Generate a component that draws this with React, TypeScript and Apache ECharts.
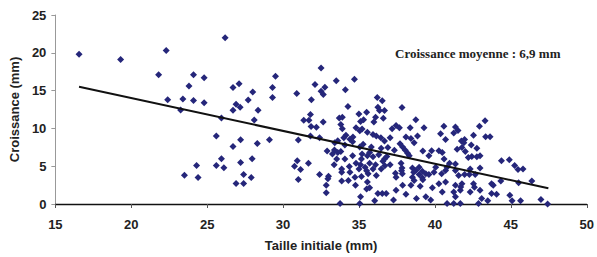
import React, { useEffect, useRef } from "react";
import * as echarts from "echarts";

// Taille initiale (mm)
const sizeX: number[] = [
  16.56, 19.3, 22.3, 21.8, 24.1, 23.8, 22.4, 23.4, 24.1, 23.25, 24.3, 23.5, 24.4,
  24.8, 24.8, 26.18, 25.94, 25.6, 26.7, 27.1, 26.9, 27.17, 26.7, 27.7, 28.0, 28.35, 28.1, 29.3, 29.3, 29.5,
  26.7, 27.2, 28.3, 29.1, 25.94, 25.6, 26.1, 27.2, 27.96, 27.4, 27.9, 26.9, 27.4,
  32.5, 32.1, 33.5, 34.7, 30.9, 32.5, 32.75, 32.65, 31.86, 34.1, 34.27, 31.8, 31.36, 31.7, 31.84, 32.19,
  32.64, 31.8, 32.4, 31.0, 33.7, 33.9, 33.8, 33.9, 34.99, 35.5, 35.1, 35.3, 34.8, 35.05, 35.2, 35.55,
  34.14, 34.6, 34.0, 34.4, 34.07, 34.58, 32.9, 33.38, 33.6, 33.25, 33.8, 34.58, 35.2, 35.55, 34.07, 33.53,
  33.36, 34.8, 35.1, 35.4, 35.0, 33.86, 34.36, 30.93, 30.75, 31.15, 31.67, 32.4, 32.99, 32.95, 31.0, 32.84,
  32.84, 33.86, 34.3, 34.77, 35.16, 35.55, 35.1, 33.75, 35.05, 35.5,
  36.2, 36.53, 37.83, 36.24, 36.35, 36.68, 36.09, 35.98, 38.74, 39.28, 37.44, 37.66, 37.18, 38.37, 35.92,
  36.44, 37.05, 38.09, 38.42, 38.85, 38.63, 37.7, 37.87, 38.05, 38.2, 38.31, 35.81, 36.46, 36.9, 37.33,
  35.05, 35.92, 36.3, 36.83, 37.05, 36.57, 36.09, 35.7, 37.77, 37.83, 37.4, 38.52, 38.74, 38.96, 39.17,
  39.4, 38.96, 38.52, 38.63, 39.17, 35.6, 35.7, 36.14, 37.87, 38.42, 39.03, 37.44, 36.24, 36.53, 36.79,
  38.09, 39.4, 36.03, 37.27, 38.78,
  43.3, 42.93, 43.34, 43.63, 40.59, 41.35, 41.52, 40.37, 40.7, 41.74, 41.95, 42.54, 41.78, 42.0, 42.39,
  42.76, 42.43, 42.76, 42.97, 42.2, 39.78, 40.26, 40.48, 39.6, 40.96, 40.8, 41.35, 41.35, 40.7, 40.44,
  40.05, 39.94, 39.6, 41.95, 42.32, 42.27, 42.54, 41.78, 41.35, 40.7, 40.26, 39.83, 40.48, 41.24, 41.67,
  42.32, 42.97, 43.84, 44.06, 43.73, 43.08, 39.72, 40.8, 41.24, 41.67, 42.87, 43.48,
  44.38, 44.9, 45.25, 45.47, 45.8, 44.34, 45.51, 46.38, 44.93, 45.08, 45.64, 46.98, 47.42,
  39.2, 40.6, 37.8, 37.85, 38.6, 39.2, 37.44,
  41.24, 41.9, 41.46, 42.97, 41.56, 42.65, 43.73, 41.7, 42.6, 41.35,
  36.6, 36.14, 33.4, 33.6, 36.68, 35.27, 35.7,
  35.5, 35.92, 36.46, 36.7, 36.68, 35.16, 33.86, 34.4, 34.73,
];

// Croissance (mm)
const growthY: number[] = [
  19.8, 19.1, 20.3, 17.1, 17.1, 15.6, 13.8, 13.9, 13.7, 12.45, 5.1, 3.8, 3.5,
  16.7, 13.4, 22.0, 11.37, 9.0, 15.4, 15.9, 13.2, 12.8, 12.4, 13.75, 14.8, 12.4, 11.1, 15.4, 14.1, 16.9,
  7.6, 8.5, 8.0, 8.5, 6.0, 5.1, 4.8, 5.5, 6.0, 3.9, 3.5, 2.7, 2.7,
  18.0, 15.8, 16.3, 16.5, 14.6, 14.9, 15.45, 14.5, 13.8, 15.1, 12.9, 11.85, 11.07, 11.07, 10.24, 10.15,
  10.85, 8.98, 8.76, 8.46, 11.37, 11.46, 10.5, 9.97, 11.9, 12.15, 10.9, 11.15, 10.07, 9.7, 9.93, 9.5,
  9.1, 8.85, 8.76, 8.55, 7.8, 8.25, 7.0, 7.15, 6.8, 6.6, 6.94, 6.37, 6.6, 6.37, 5.94, 5.94,
  5.2, 5.38, 5.2, 4.86, 4.64, 4.64, 4.95, 5.73, 4.99, 4.55, 5.38, 3.9, 3.68, 3.33, 3.25, 2.47,
  1.5, 3.03, 3.12, 2.47, 3.64, 2.9, 0.95, 0.08, 0.08, 2.0,
  14.1, 13.67, 12.76, 12.8, 12.37, 12.37, 11.46, 10.85, 11.15, 10.07, 10.37, 10.07, 9.97, 10.07, 9.2,
  8.76, 8.76, 8.85, 8.67, 8.98, 8.11, 7.98, 7.55, 7.11, 6.72, 6.37, 7.55, 7.37, 7.46, 7.11,
  7.55, 6.25, 6.5, 6.29, 5.2, 5.64, 5.2, 5.38, 5.38, 4.77, 4.08, 4.77, 4.43, 3.9, 4.34,
  3.99, 4.86, 3.55, 3.12, 3.46, 3.99, 2.16, 3.77, 2.47, 2.47, 2.34, 1.82, 1.38, 1.38, 1.38,
  1.3, 0.95, 0.43, 0.52, 0.73,
  11.0, 10.28, 8.89, 8.89, 10.28, 10.2, 9.71, 9.28, 8.54, 8.33, 8.54, 9.11, 7.46, 6.94, 7.81,
  7.37, 6.29, 6.25, 6.37, 6.16, 7.03, 7.03, 6.81, 6.37, 5.38, 4.86, 5.29, 4.43, 4.43, 3.99,
  4.86, 4.21, 3.9, 3.9, 4.64, 3.9, 2.68, 2.68, 2.47, 2.9, 2.68, 2.16, 1.6, 1.6, 1.82,
  1.6, 1.82, 2.47, 1.3, 1.38, 0.73, 0.52, 0.08, 0.08, 0.08, 0.08, 0.43,
  5.73, 5.86, 5.08, 4.56, 4.64, 3.03, 2.81, 3.03, 1.17, 0.43, 0.43, 0.6, 0.0,
  7.0, 5.95, 4.4, 3.99, 4.2, 3.2, 3.55,
  9.4, 8.1, 7.24, 4.77, 3.77, 3.9, 2.68, 2.25, 2.2, 0.95,
  11.35, 9.0, 8.1, 8.35, 8.33, 7.9, 6.8,
  4.4, 4.64, 4.64, 5.05, 5.94, 5.94, 4.2, 4.2, 3.55,
];

// Trend line end points
const trendX: number[] = [16.56, 47.47];
const trendY: number[] = [15.5, 2.08];

const xTicks = { min: 15, max: 50, interval: 5 };
const yTicks = { min: 0, max: 25, interval: 5 };

const annotation = "Croissance moyenne : 6,9 mm";
const xName = "Taille initiale (mm)";
const yName = "Croissance (mm)";

export default function App() {
  const ref = useRef<HTMLDivElement>(null);
  useEffect(() => {
    if (!ref.current) return;
    const chart = echarts.init(ref.current, undefined, { renderer: "svg" });
    const font = "Liberation Sans, Arial, sans-serif";
    chart.setOption({
      animation: false,
      backgroundColor: "#ffffff",
      grid: { left: 52, right: 8, top: 15, bottom: 50 },
      xAxis: {
        type: "value",
        min: xTicks.min,
        max: xTicks.max,
        interval: xTicks.interval,
        name: xName,
        nameLocation: "middle",
        nameGap: 35,
        nameTextStyle: { fontFamily: font, fontWeight: "bold", fontSize: 13, color: "#222" },
        axisLine: { show: true, onZero: false, lineStyle: { color: "#111", width: 1.3 } },
        axisTick: { show: true, inside: false, length: 4, lineStyle: { color: "#555" } },
        axisLabel: { fontFamily: font, fontWeight: "bold", fontSize: 13, color: "#222", margin: 14 },
        splitLine: { show: false },
      },
      yAxis: {
        type: "value",
        min: yTicks.min,
        max: yTicks.max,
        interval: yTicks.interval,
        name: yName,
        nameLocation: "middle",
        nameGap: 31,
        nameTextStyle: { fontFamily: font, fontWeight: "bold", fontSize: 13, color: "#222" },
        axisLine: { show: true, lineStyle: { color: "#999", width: 1 } },
        axisTick: { show: true, inside: false, length: 4, lineStyle: { color: "#999" } },
        axisLabel: { fontFamily: font, fontWeight: "bold", fontSize: 13, color: "#222", margin: 9 },
        splitLine: { show: false },
      },
      graphic: [
        {
          type: "text",
          left: 395,
          top: 47,
          style: {
            text: annotation,
            font: 'bold 13px "Liberation Serif", "Times New Roman", serif',
            fill: "#222",
          },
        },
      ],
      series: [
        {
          type: "scatter",
          symbol: "diamond",
          symbolSize: 7,
          itemStyle: { color: "#25267a", opacity: 1 },
          data: sizeX.map((x, i) => [x, growthY[i]]),
          z: 2,
        },
        {
          type: "line",
          symbol: "none",
          lineStyle: { color: "#111", width: 2 },
          data: trendX.map((x, i) => [x, trendY[i]]),
          z: 3,
        },
      ],
    });
    return () => chart.dispose();
  }, []);
  return (
    <div
      ref={ref}
      style={{ position: "absolute", left: 0, top: 0, width: 597, height: 257 }}
    />
  );
}
